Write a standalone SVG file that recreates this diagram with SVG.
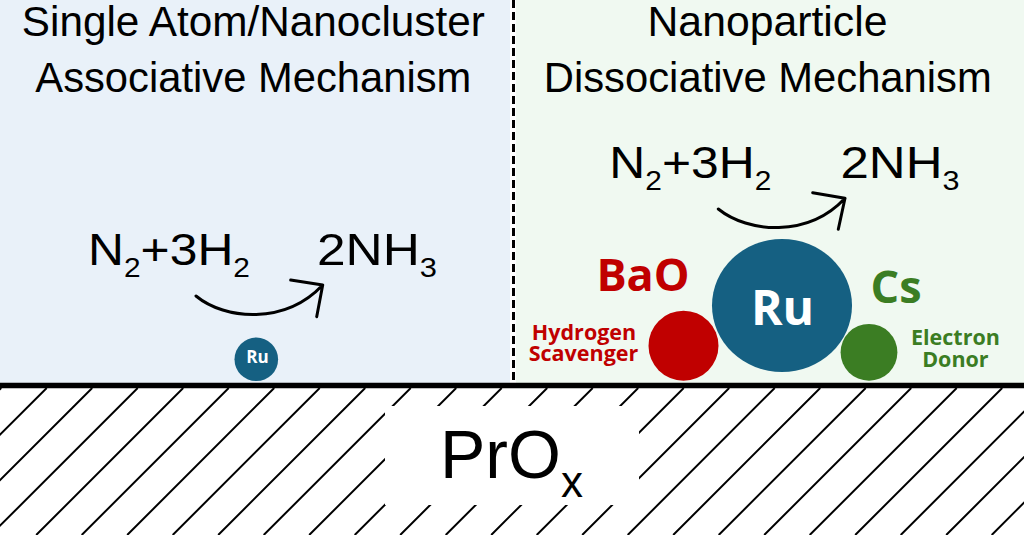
<svg xmlns="http://www.w3.org/2000/svg" width="1024" height="535" viewBox="0 0 1024 535">
<style>
.hdr{font-family:"Liberation Sans",Arial,sans-serif;font-size:42px;fill:#000;text-anchor:middle}
.eq{font-family:"Liberation Sans",Arial,sans-serif;font-size:45px;fill:#000}
.sub{font-size:27px}
.bold{font-family:"Open Sans","Liberation Sans",sans-serif;font-weight:bold;text-anchor:middle}
.red{fill:#c00000}
.grn{fill:#3b7d23}
.wht{fill:#fff}
.arr{fill:none;stroke:#000;stroke-width:3;stroke-linecap:round;stroke-linejoin:round}
</style>
<defs>
<clipPath id="ground"><rect x="0" y="388" width="1024" height="147"/></clipPath>
</defs>
<g id="panels">
<rect x="0" y="0" width="510" height="384" fill="#e9f1f9"/>
<rect x="516" y="0" width="508" height="384" fill="#f0f9f1"/>
<line x1="513.5" y1="0" x2="513.5" y2="383" stroke="#000" stroke-width="3" stroke-dasharray="8,4"/>
</g>
<g id="substrate">
<path clip-path="url(#ground)" fill="none" stroke="#000" stroke-width="2" d="M1.2,388l-147,147M46.7,388l-147,147M92.2,388l-147,147M137.7,388l-147,147M183.2,388l-147,147M228.7,388l-147,147M274.2,388l-147,147M319.7,388l-147,147M365.2,388l-147,147M410.7,388l-147,147M456.2,388l-147,147M501.7,388l-147,147M547.2,388l-147,147M592.7,388l-147,147M638.2,388l-147,147M683.7,388l-147,147M729.2,388l-147,147M774.7,388l-147,147M820.2,388l-147,147M865.7,388l-147,147M911.2,388l-147,147M956.7,388l-147,147M1002.2,388l-147,147M1047.7,388l-147,147M1093.2,388l-147,147M1138.7,388l-147,147"/>
<rect x="385" y="406" width="254" height="99" fill="#fff"/>
<line x1="0" y1="385.5" x2="1024" y2="385.5" stroke="#000" stroke-width="5.5"/>
<text class="eq" x="440" y="478.3" style="font-size:68px">PrO<tspan dy="18.4" style="font-size:44px">x</tspan></text>
</g>
<g id="header-left">
<text class="hdr" x="253.3" y="36" textLength="463" lengthAdjust="spacingAndGlyphs">Single Atom/Nanocluster</text>
<text class="hdr" x="253.3" y="91.7" textLength="436" lengthAdjust="spacingAndGlyphs">Associative Mechanism</text>
</g>
<g id="header-right">
<text class="hdr" x="767.5" y="36" textLength="240" lengthAdjust="spacingAndGlyphs">Nanoparticle</text>
<text class="hdr" x="767.8" y="91.7" textLength="448" lengthAdjust="spacingAndGlyphs">Dissociative Mechanism</text>
</g>
<g id="reaction-left">
<text class="eq" x="88" y="265" textLength="162" lengthAdjust="spacingAndGlyphs">N<tspan class="sub" dy="11.7">2</tspan><tspan dy="-11.7">+3H</tspan><tspan class="sub" dy="11.7">2</tspan></text>
<text class="eq" x="317" y="265" textLength="120" lengthAdjust="spacingAndGlyphs">2NH<tspan class="sub" dy="11.7">3</tspan></text>
</g>
<g id="reaction-right">
<text class="eq" x="609.3" y="178.3" textLength="162" lengthAdjust="spacingAndGlyphs">N<tspan class="sub" dy="11.7">2</tspan><tspan dy="-11.7">+3H</tspan><tspan class="sub" dy="11.7">2</tspan></text>
<text class="eq" x="840.5" y="178.3" textLength="119" lengthAdjust="spacingAndGlyphs">2NH<tspan class="sub" dy="11.7">3</tspan></text>
</g>
<g id="connectors">
<path class="arr" d="M196,296 C225,320 285,325 322.7,285 M290.7,280 L322.7,285 L316.7,316.7"/>
<path class="arr" d="M718.3,209 C748,233 808,238 845,198.3 M812.7,192.7 L845,198.3 L838.3,229.3"/>
</g>
<g id="ru-single">
<circle cx="256.3" cy="359.3" r="21.8" fill="#156082"/>
<text class="bold wht" x="257.5" y="363.3" style="font-size:17px">Ru</text>
</g>
<g id="bao">
<circle cx="683.5" cy="345.7" r="35" fill="#c00000"/>
<text class="bold red" x="643" y="291" style="font-size:45px">BaO</text>
<text class="bold red" style="font-size:21.5px"><tspan x="584" y="340">Hydrogen</tspan><tspan x="583.5" y="360.7">Scavenger</tspan></text>
</g>
<g id="ru-particle">
<ellipse cx="782" cy="305.5" rx="70" ry="66.5" fill="#156082"/>
<text class="bold wht" x="782.5" y="325" style="font-size:48px">Ru</text>
</g>
<g id="cs">
<circle cx="869" cy="352.3" r="28.4" fill="#3b7d23"/>
<text class="bold grn" x="896" y="303" style="font-size:45px">Cs</text>
<text class="bold grn" style="font-size:21.5px"><tspan x="955.4" y="345">Electron</tspan><tspan x="955.4" y="366.7">Donor</tspan></text>
</g>
</svg>
